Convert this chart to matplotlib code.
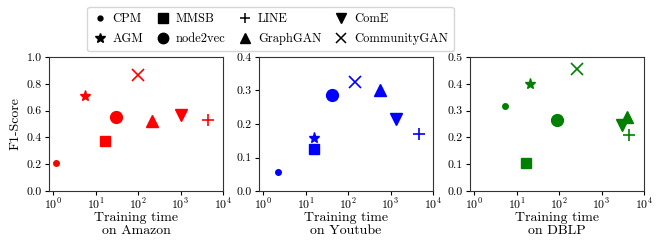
import matplotlib
matplotlib.use("Agg")
import matplotlib.pyplot as plt
from matplotlib.lines import Line2D
import numpy as np

plt.rcParams['font.family'] = 'serif'
plt.rcParams['font.serif'] = ['cmr10', 'DejaVu Serif']
plt.rcParams['mathtext.fontset'] = 'cm'
plt.rcParams['axes.formatter.use_mathtext'] = True
plt.rcParams['axes.unicode_minus'] = False

methods = ["CPM", "AGM", "MMSB", "node2vec", "LINE", "GraphGAN", "ComE", "CommunityGAN"]
markers = ["o", "*", "s", "o", "+", "^", "v", "x"]
sizes = [4, 8, 7.5, 8.5, 8, 8, 8, 8]

datasets = ["Amazon", "Youtube", "DBLP"]
colors = ["red", "blue", "green"]

amazon_time = [1.15, 5.6, 16.7, 29.7, 4500, 217, 1000, 100]
amazon_f1 = [0.21, 0.71, 0.37, 0.55, 0.53, 0.52, 0.57, 0.865]
youtube_time = [2.3, 16, 16, 42, 4600, 570, 1350, 145]
youtube_f1 = [0.058, 0.158, 0.125, 0.288, 0.17, 0.302, 0.215, 0.325]
dblp_time = [5.3, 21, 17, 90, 4400, 4000, 3000, 260]
dblp_f1 = [0.318, 0.40, 0.105, 0.265, 0.21, 0.275, 0.245, 0.455]

times = [amazon_time, youtube_time, dblp_time]
f1s = [amazon_f1, youtube_f1, dblp_f1]
ymaxes = [1.0, 0.4, 0.5]
ysteps = [0.2, 0.1, 0.1]

fig = plt.figure(figsize=(6.7, 2.44), dpi=100)
lefts = [49/670, 259/670, 470/670]
w = 174/670
bottom = 1 - 191/244
h = (191-57)/244

for i in range(3):
    ax = fig.add_axes([lefts[i], bottom, w, h])
    for j, m in enumerate(methods):
        ax.plot(times[i][j], f1s[i][j], linestyle='none', marker=markers[j],
                markersize=sizes[j], color=colors[i],
                markeredgewidth=1.2 if markers[j] in ['+', 'x'] else 1.0)
    ax.set_xscale('log')
    ax.set_xlim(0.8, 1e4)
    ax.set_ylim(0, ymaxes[i])
    yt = np.arange(0, ymaxes[i] + 1e-9, ysteps[i])
    ax.set_yticks(yt)
    ax.set_yticklabels([f"{v:.1f}" for v in yt])
    ax.set_xticks([1, 10, 100, 1000, 10000])
    ax.tick_params(labelsize=8.5, length=3, width=0.8, pad=2)
    ax.tick_params(axis='x', pad=1)
    ax.tick_params(which='minor', length=1.5, width=0.6)
    ax.set_xlabel(f"Training time\non {datasets[i]}", fontsize=10, linespacing=1.15,
                  labelpad=0)
    for s in ax.spines.values():
        s.set_color('#333333')
    if i == 0:
        ax.set_ylabel("F1-Score", fontsize=10, labelpad=4)

handles = [Line2D([], [], linestyle='none', marker=markers[j], color='black',
                  markersize=[3.5, 7, 6.5, 7.5, 7, 7, 7, 7][j],
                  markeredgewidth=1.1 if markers[j] in ['+', 'x'] else 1.0)
           for j in range(len(methods))]
fig.legend(handles, methods, loc='upper center', bbox_to_anchor=(0.404, 0.997),
           ncol=4, fontsize=9, frameon=True, columnspacing=1.1, handlelength=1.0,
           handletextpad=0.5, borderpad=0.5, labelspacing=0.6)

fig.savefig("out.png", dpi=100)
